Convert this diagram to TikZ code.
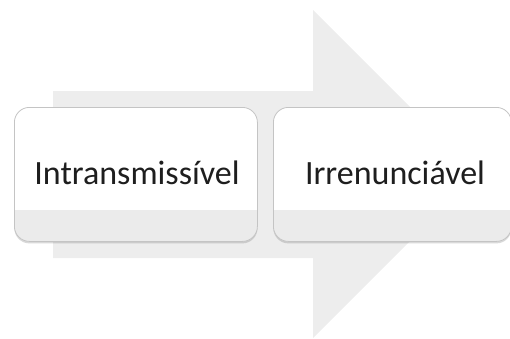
\documentclass[tikz,border=0pt]{standalone}
\usepackage{fontspec}
\setmainfont{Carlito}
\usetikzlibrary{shadows}
\definecolor{arrowgray}{HTML}{EDEDED}
\definecolor{bandgray}{HTML}{EBEBEB}
\definecolor{edgegray}{HTML}{C4C4C4}
\definecolor{txt}{HTML}{1E1E1E}
\begin{document}
\begin{tikzpicture}[x=1pt,y=-1pt,
  itembox/.style={draw=edgegray, line width=0.8pt, rounded corners=15pt, fill=white,
    minimum width=#1, minimum height=134pt, inner sep=0pt,
    drop shadow={shadow xshift=0pt, shadow yshift=-2pt, opacity=0.25, fill=black!60},
    path picture={\fill[bandgray, sharp corners] ([yshift=31pt]path picture bounding box.south west) rectangle (path picture bounding box.south east);}},
  itembox/.default=243pt,
  itemtext/.style={font=\fontsize{34}{40}\selectfont, text=txt, anchor=base, inner sep=0pt}]
\useasboundingbox (0,0) rectangle (510,338);
\fill[arrowgray] (53,91) -- (313,91) -- (313,10) -- (477,174) -- (313,338) -- (313,258) -- (53,258) -- cycle;
\node[itembox=243pt, anchor=north west] (a) at (14,107) {};
\node[itembox=238pt, anchor=north west] (b) at (273,107) {};
\node[itemtext] (ta) at (137,184) {Intransmissível};
\node[itemtext] (tb) at (395,184) {Irrenunciável};
\end{tikzpicture}
\end{document}
